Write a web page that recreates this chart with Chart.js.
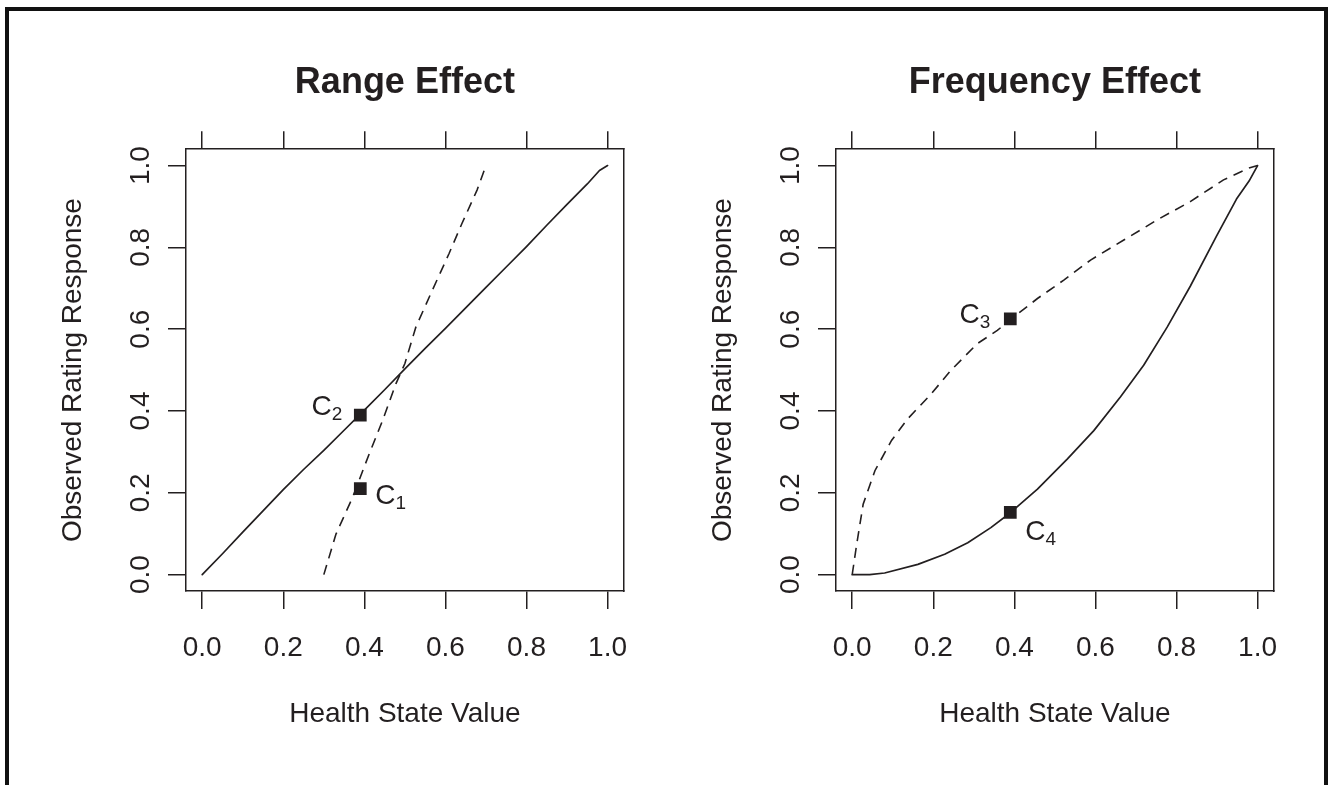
<!DOCTYPE html>
<html>
<head>
<meta charset="utf-8">
<script src="https://cdn.jsdelivr.net/npm/chart.js@4.4.1/dist/chart.umd.min.js"></script>
<style>
    body { margin: 0; background: #fff; width: 1329px; height: 785px; overflow: hidden; position: relative; }
    .frame { position: absolute; left: 5px; top: 7px; width: 1323px; height: 800px; box-sizing: border-box;
             border: 4px solid #111; border-bottom: none; }
    canvas { position: absolute; top: 0; }
    #rangeChart { left: 0; }
    #freqChart { left: 650px; }
</style>
</head>
<body>
<div class="frame"></div>
<canvas id="rangeChart" width="650" height="785"></canvas>
<canvas id="freqChart" width="650" height="785"></canvas>
<script>
const tickValues = [0, 0.2, 0.4, 0.6, 0.8, 1.0];
const tickLabels = ['0.0', '0.2', '0.4', '0.6', '0.8', '1.0'];

// Range Effect panel
const rangeSolidX = [0, 0.05, 0.10, 0.15, 0.20, 0.25, 0.30, 0.35, 0.40, 0.45, 0.50, 0.55, 0.60, 0.65, 0.70, 0.75, 0.80, 0.85, 0.90, 0.95, 0.98, 1.0];
const rangeSolidY = [0, 0.051, 0.104, 0.156, 0.208, 0.257, 0.304, 0.353, 0.402, 0.452, 0.503, 0.553, 0.602, 0.652, 0.702, 0.752, 0.802, 0.854, 0.905, 0.955, 0.988, 1.0];
const rangeDashX = [0.30, 0.33, 0.371, 0.385, 0.396, 0.412, 0.445, 0.478, 0.50, 0.527, 0.564, 0.609, 0.641, 0.678, 0.70];
const rangeDashY = [0.00, 0.099, 0.189, 0.225, 0.254, 0.295, 0.377, 0.467, 0.516, 0.605, 0.687, 0.785, 0.859, 0.940, 1.00];
const rangeMarkerX = [0.39, 0.39];
const rangeMarkerY = [0.21, 0.39];
const rangeMarkerSubs = ['1', '2'];

// Frequency Effect panel
const freqSolidX = [0, 0.043, 0.080, 0.162, 0.228, 0.285, 0.342, 0.391, 0.457, 0.531, 0.596, 0.662, 0.719, 0.777, 0.834, 0.899, 0.948, 0.979, 1.0];
const freqSolidY = [0, 0, 0.004, 0.025, 0.050, 0.078, 0.115, 0.152, 0.209, 0.283, 0.352, 0.435, 0.512, 0.605, 0.705, 0.828, 0.918, 0.962, 1.0];
const freqDashX = [0, 0.011, 0.027, 0.056, 0.097, 0.137, 0.195, 0.244, 0.309, 0.358, 0.391, 0.457, 0.522, 0.588, 0.670, 0.752, 0.834, 0.916, 0.979, 1.0];
const freqDashY = [0, 0.074, 0.172, 0.254, 0.328, 0.381, 0.442, 0.500, 0.565, 0.597, 0.624, 0.675, 0.720, 0.769, 0.818, 0.867, 0.912, 0.965, 0.994, 1.0];
const freqMarkerX = [0.39, 0.39];
const freqMarkerY = [0.625, 0.152];
const freqMarkerSubs = ['3', '4'];

const ink = '#231f20';
const fontFamily = "'Liberation Sans', Arial, Helvetica, sans-serif";
Chart.defaults.font.family = fontFamily;
Chart.defaults.color = ink;

function toPoints(xs, ys) {
    return xs.map((x, i) => ({ x: x, y: ys[i] }));
}

function setTicks(scale) {
    scale.ticks = tickValues.map(v => ({ value: v }));
}

// draws C with a subscript next to each marker
const markerLabels = {
    id: 'markerLabels',
    afterDatasetsDraw(chart, args, opts) {
        const meta = chart.getDatasetMeta(2);
        const ctx = chart.ctx;
        ctx.save();
        ctx.fillStyle = ink;
        ctx.textBaseline = 'alphabetic';
        ctx.textAlign = 'left';
        meta.data.forEach((pt, i) => {
            const place = opts.places[i];
            const sub = opts.subs[i];
            ctx.font = '28px ' + fontFamily;
            const wC = ctx.measureText('C').width;
            ctx.font = '19px ' + fontFamily;
            const wS = ctx.measureText(sub).width;
            const x0 = place.side === 'left' ? pt.x - place.dx - wC - wS : pt.x + place.dx;
            const base = pt.y + place.dy;
            ctx.font = '28px ' + fontFamily;
            ctx.fillText('C', x0, base);
            ctx.font = '19px ' + fontFamily;
            ctx.fillText(sub, x0 + wC, base + 5);
        });
        ctx.restore();
    }
};

function makePanel(id, title, solid, dashed, markers, subs, places) {
    const ctx = document.getElementById(id).getContext('2d');
    const gridOpts = { drawOnChartArea: false, drawTicks: true, tickLength: 18, color: ink, lineWidth: 1.5 };
    const borderOpts = { display: true, color: ink, width: 1.5 };

    new Chart(ctx, {
        type: 'line',
        data: {
            datasets: [{
                data: solid,
                borderColor: ink,
                borderWidth: 1.7,
                borderCapStyle: 'round',
                borderJoinStyle: 'round',
                pointRadius: 0,
                tension: 0,
                fill: false
            }, {
                data: dashed,
                borderColor: ink,
                borderWidth: 1.6,
                borderDash: [10, 7],
                pointRadius: 0,
                tension: 0,
                fill: false
            }, {
                data: markers,
                showLine: false,
                pointStyle: 'rect',
                pointRadius: 9,
                backgroundColor: ink,
                borderWidth: 0
            }]
        },
        options: {
            responsive: false,
            animation: false,
            events: [],
            layout: { padding: { top: 0, left: 0, right: 0, bottom: 44 } },
            plugins: {
                legend: { display: false },
                tooltip: { enabled: false },
                title: {
                    display: true,
                    text: title,
                    fullSize: false,
                    color: ink,
                    font: { size: 36, weight: 'bold' },
                    padding: { top: 61, bottom: 27 }
                },
                markerLabels: { places: places, subs: subs }
            },
            scales: {
                x: {
                    type: 'linear',
                    position: 'bottom',
                    min: -0.04,
                    max: 1.04,
                    afterBuildTicks: setTicks,
                    afterFit: s => { s.height = 150; },
                    ticks: {
                        autoSkip: false,
                        maxRotation: 0,
                        padding: 22,
                        font: { size: 28 },
                        callback: (v, i) => tickLabels[i]
                    },
                    grid: gridOpts,
                    border: borderOpts,
                    title: { display: true, text: 'Health State Value', font: { size: 28 }, padding: { top: 0, bottom: 10 } }
                },
                x2: {
                    type: 'linear',
                    position: 'top',
                    min: -0.04,
                    max: 1.04,
                    afterBuildTicks: setTicks,
                    afterFit: s => { s.height = 18; },
                    ticks: { display: false },
                    grid: gridOpts,
                    border: borderOpts
                },
                y: {
                    type: 'linear',
                    position: 'left',
                    min: -0.04,
                    max: 1.04,
                    afterBuildTicks: setTicks,
                    afterFit: s => { s.width = 186; },
                    ticks: {
                        autoSkip: false,
                        minRotation: 90,
                        maxRotation: 90,
                        crossAlign: 'center',
                        padding: 7.5,
                        font: { size: 28 },
                        callback: (v, i) => tickLabels[i]
                    },
                    grid: gridOpts,
                    border: borderOpts,
                    title: { display: true, text: 'Observed Rating Response', font: { size: 28 }, padding: { top: 56, bottom: 0 } }
                },
                y2: {
                    type: 'linear',
                    position: 'right',
                    min: -0.04,
                    max: 1.04,
                    afterFit: s => { s.width = 26; },
                    ticks: { display: false },
                    grid: { display: false },
                    border: borderOpts
                }
            }
        },
        plugins: [markerLabels]
    });
}

makePanel('rangeChart', 'Range Effect',
    toPoints(rangeSolidX, rangeSolidY),
    toPoints(rangeDashX, rangeDashY),
    toPoints(rangeMarkerX, rangeMarkerY),
    rangeMarkerSubs,
    [{ side: 'right', dx: 15, dy: 15 }, { side: 'left', dx: 18, dy: 0 }]);

makePanel('freqChart', 'Frequency Effect',
    toPoints(freqSolidX, freqSolidY),
    toPoints(freqDashX, freqDashY),
    toPoints(freqMarkerX, freqMarkerY),
    freqMarkerSubs,
    [{ side: 'left', dx: 20, dy: 4 }, { side: 'right', dx: 15, dy: 28 }]);
</script>
</body>
</html>
